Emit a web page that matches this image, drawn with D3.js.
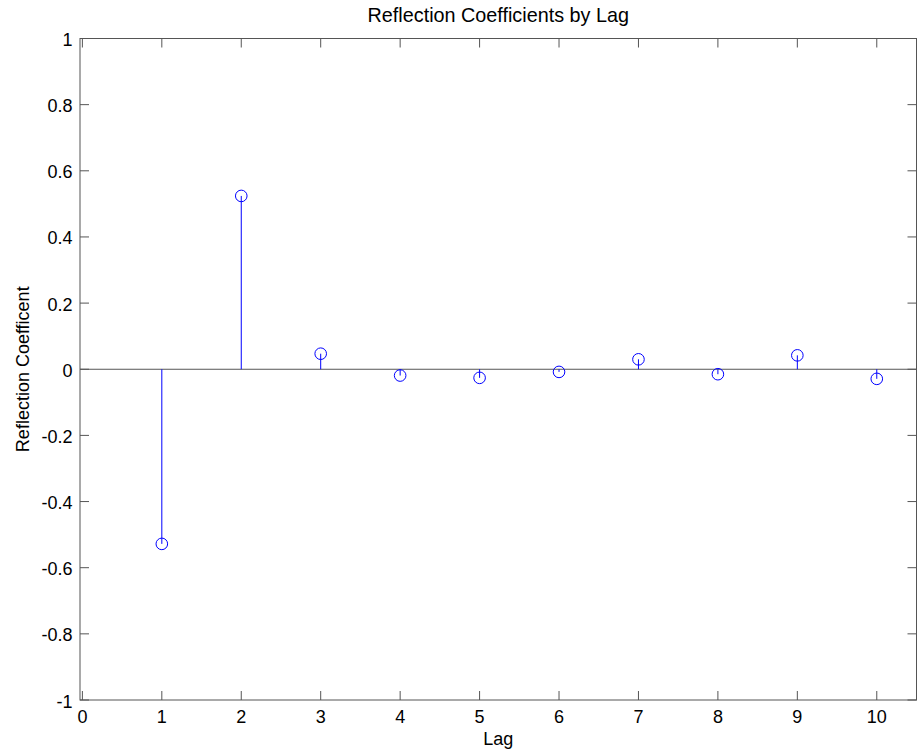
<!DOCTYPE html>
<html>
<head>
<meta charset="utf-8">
<script src="https://cdn.jsdelivr.net/npm/d3@7"></script>
<style>
    body { margin: 0; background: #fff; }
    text { font-family: "Liberation Sans", Arial, sans-serif; fill: #000; }
</style>
</head>
<body>
<svg id="chart" width="921" height="753"></svg>
<script>
// reflection coefficients
var lags = [1, 2, 3, 4, 5, 6, 7, 8, 9, 10];
var coeffs = [-0.528, 0.524, 0.047, -0.019, -0.026, -0.008, 0.030, -0.015, 0.042, -0.029];
var xTicks = [0, 1, 2, 3, 4, 5, 6, 7, 8, 9, 10];
var yTicks = [-1, -0.8, -0.6, -0.4, -0.2, 0, 0.2, 0.4, 0.6, 0.8, 1];

var margin = { top: 38.5, right: 4.5, bottom: 53, left: 80 };
var width = 921, height = 753;
var axisColor = '#555';
var stemColor = '#0000ff';
var fontSize = '18px';

var svg = d3.select('#chart');

var x = d3.scaleLinear()
    .domain([-0.03, 10.5])
    .range([margin.left, width - margin.right]);

var y = d3.scaleLinear()
    .domain([-1, 1])
    .range([height - margin.bottom, margin.top]);

var x0 = x.range()[0], x1 = x.range()[1],
    y0 = y.range()[1], y1 = y.range()[0];

// ticks inside the box, both sides like matlab
var g = svg.append('g');

xTicks.forEach(function (t) {
    g.append('line')
        .attr('x1', x(t)).attr('x2', x(t))
        .attr('y1', y1).attr('y2', y1 - 9)
        .attr('stroke', axisColor);
    g.append('line')
        .attr('x1', x(t)).attr('x2', x(t))
        .attr('y1', y0).attr('y2', y0 + 9)
        .attr('stroke', axisColor);
    g.append('text')
        .attr('x', x(t)).attr('y', y1 + 23)
        .attr('text-anchor', 'middle')
        .style('font-size', fontSize)
        .text(t);
});

yTicks.forEach(function (t) {
    g.append('line')
        .attr('x1', x0).attr('x2', x0 + 9)
        .attr('y1', y(t)).attr('y2', y(t))
        .attr('stroke', axisColor);
    g.append('line')
        .attr('x1', x1).attr('x2', x1 - 9)
        .attr('y1', y(t)).attr('y2', y(t))
        .attr('stroke', axisColor);
    g.append('text')
        .attr('x', x0 - 7.5).attr('y', y(t) + 7.5)
        .attr('text-anchor', 'end')
        .style('font-size', fontSize)
        .text(t);
});

g.append('rect')
    .attr('x', x0).attr('y', y0)
    .attr('width', x1 - x0).attr('height', y1 - y0)
    .attr('fill', 'none')
    .attr('stroke', axisColor);

// zero line
svg.append('line')
    .attr('x1', x0).attr('x2', x1)
    .attr('y1', y(0)).attr('y2', y(0))
    .attr('stroke', axisColor);

var data = lags.map(function (d, i) {
    return { lag: d, value: coeffs[i] };
});

var stems = svg.append('g').attr('class', 'stems');

stems.selectAll('line')
    .data(data)
    .enter().append('line')
    .attr('x1', function (d) { return x(d.lag); })
    .attr('x2', function (d) { return x(d.lag); })
    .attr('y1', y(0))
    .attr('y2', function (d) { return y(d.value); })
    .attr('stroke', stemColor)
    .attr('stroke-width', 1);

stems.selectAll('circle')
    .data(data)
    .enter().append('circle')
    .attr('cx', function (d) { return x(d.lag); })
    .attr('cy', function (d) { return y(d.value); })
    .attr('r', 5.8)
    .attr('fill', 'none')
    .attr('stroke', stemColor)
    .attr('stroke-width', 1);

// labels
svg.append('text')
    .attr('x', (x0 + x1) / 2).attr('y', 22)
    .attr('text-anchor', 'middle')
    .style('font-size', '19.8px')
    .text('Reflection Coefficients by Lag');

svg.append('text')
    .attr('x', (x0 + x1) / 2).attr('y', 745)
    .attr('text-anchor', 'middle')
    .style('font-size', fontSize)
    .text('Lag');

svg.append('text')
    .attr('transform', 'translate(29,' + ((y0 + y1) / 2) + ') rotate(-90)')
    .attr('text-anchor', 'middle')
    .style('font-size', fontSize)
    .text('Reflection Coefficent');
</script>
</body>
</html>
